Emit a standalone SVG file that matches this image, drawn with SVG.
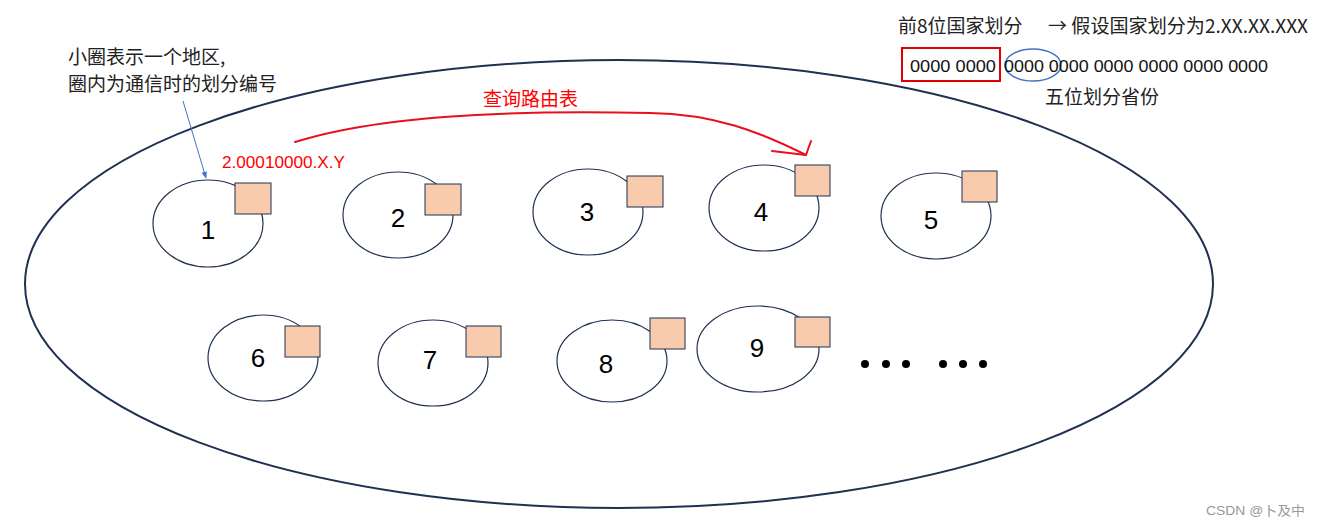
<svg xmlns="http://www.w3.org/2000/svg" width="1319" height="526" viewBox="0 0 1319 526">
<style>
.t{font-family:"Liberation Sans","Noto Sans CJK SC",sans-serif;}
.cn{font-family:"Noto Sans CJK SC","Liberation Sans",sans-serif;font-size:19px;fill:#222;}
.num{font-family:"Liberation Sans",sans-serif;font-size:26px;fill:#000;text-anchor:middle;}
.reg{fill:#fff;stroke:#1F3050;stroke-width:1.2;}
.box{fill:#F8CBAD;stroke:#1F3050;stroke-width:1;}
.dot{fill:#000;}
</style>
<defs>
<marker id="ab" viewBox="0 0 10 10" refX="9" refY="5" markerWidth="7" markerHeight="7" orient="auto"><path d="M0,1 L10,5 L0,9 z" fill="#4472C4"/></marker>
</defs>
<rect width="1319" height="526" fill="#fff"/>
<g id="world"><ellipse cx="619" cy="284" rx="594" ry="224" fill="none" stroke="#1F3050" stroke-width="2"/></g>
<g id="n1"><ellipse class="reg" cx="208" cy="223.5" rx="55" ry="43.5"/><rect class="box" x="235" y="183" width="36" height="31"/><text class="num" x="208" y="239">1</text></g>
<g id="n2"><ellipse class="reg" cx="398" cy="215" rx="55" ry="43"/><rect class="box" x="425" y="184" width="36" height="31"/><text class="num" x="398" y="227">2</text></g>
<g id="n3"><ellipse class="reg" cx="588" cy="212" rx="55" ry="43"/><rect class="box" x="627" y="176" width="36" height="31"/><text class="num" x="587" y="221">3</text></g>
<g id="n4"><ellipse class="reg" cx="764" cy="208" rx="55" ry="43"/><rect class="box" x="795" y="165" width="35" height="31"/><text class="num" x="761" y="221">4</text></g>
<g id="n5"><ellipse class="reg" cx="936" cy="216" rx="55" ry="43"/><rect class="box" x="962" y="171" width="35" height="31"/><text class="num" x="931" y="229">5</text></g>
<g id="n6"><ellipse class="reg" cx="263" cy="358" rx="55" ry="43"/><rect class="box" x="285" y="326" width="35" height="31"/><text class="num" x="258" y="367">6</text></g>
<g id="n7"><ellipse class="reg" cx="433" cy="363" rx="55" ry="43"/><rect class="box" x="466" y="326" width="35" height="31"/><text class="num" x="430" y="369">7</text></g>
<g id="n8"><ellipse class="reg" cx="612" cy="361" rx="55" ry="41"/><rect class="box" x="650" y="318" width="35" height="31"/><text class="num" x="606" y="373">8</text></g>
<g id="n9"><ellipse class="reg" cx="758" cy="349" rx="61" ry="43"/><rect class="box" x="795" y="317" width="35" height="30"/><text class="num" x="757" y="357">9</text></g>
<g id="dots">
<circle class="dot" cx="865" cy="364" r="4"/><circle class="dot" cx="886" cy="364" r="4"/><circle class="dot" cx="906" cy="364" r="4"/>
<circle class="dot" cx="943" cy="364" r="4"/><circle class="dot" cx="963" cy="364" r="4"/><circle class="dot" cx="983" cy="364" r="4"/>
</g>
<g id="connectors">
<line x1="183" y1="101" x2="206" y2="178" stroke="#4472C4" stroke-width="1" marker-end="url(#ab)"/>
<path d="M295,142 C380,115 520,110 650,113 C715,114 760,132 806,155" fill="none" stroke="#E8101C" stroke-width="2" stroke-linecap="round"/>
<path d="M772,151 L806,155 L811,141" fill="none" stroke="#E8101C" stroke-width="2" stroke-linecap="round" stroke-linejoin="round"/>
</g>
<g id="labels">
<text class="cn" x="68" y="64">小圈表示一个地区,</text>
<text class="cn" x="68" y="91">圈内为通信时的划分编号</text>
<text class="t" x="222" y="168" font-size="16" fill="#FF0000" textLength="123" lengthAdjust="spacingAndGlyphs">2.00010000.X.Y</text>
<text class="cn" x="483" y="106" style="fill:#FF0000">查询路由表</text>
<text class="cn" x="898" y="33">前8位国家划分</text>
<text class="cn" x="1048" y="33" textLength="260" lengthAdjust="spacingAndGlyphs">→ 假设国家划分为2.XX.XX.XXX</text>
<rect x="902" y="48" width="98" height="33" fill="none" stroke="#E00000" stroke-width="2"/>
<text class="t" x="910" y="72" font-size="16" fill="#111" textLength="86" lengthAdjust="spacingAndGlyphs">0000 0000</text>
<ellipse cx="1033" cy="65" rx="28" ry="16" fill="none" stroke="#4472C4" stroke-width="1.5"/>
<text class="t" x="1004" y="72" font-size="16" fill="#111" textLength="264" lengthAdjust="spacingAndGlyphs">0000 0000 0000 0000 0000 0000</text>
<text class="cn" x="1045" y="104">五位划分省份</text>
<text class="t" x="1206" y="515" font-size="13" fill="#999" textLength="99" lengthAdjust="spacingAndGlyphs">CSDN @卜及中</text>
</g>
</svg>
